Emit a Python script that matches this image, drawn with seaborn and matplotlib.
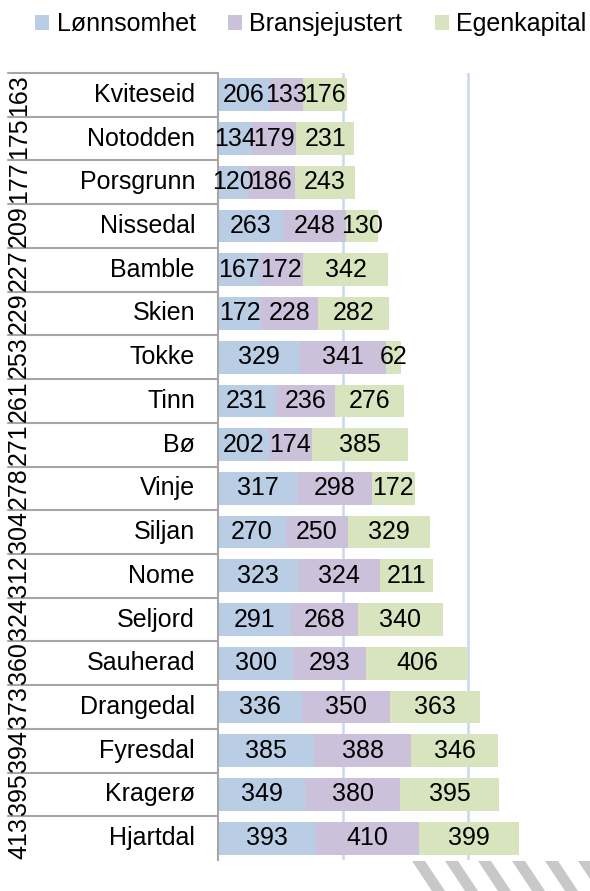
import numpy as np
import pandas as pd
import seaborn as sns
import matplotlib.pyplot as plt
from matplotlib.patches import Polygon, Patch

# Data
kommuner = ['Kviteseid', 'Notodden', 'Porsgrunn', 'Nissedal', 'Bamble', 'Skien', 'Tokke',
            'Tinn', 'Bø', 'Vinje', 'Siljan', 'Nome', 'Seljord', 'Sauherad', 'Drangedal',
            'Fyresdal', 'Kragerø', 'Hjartdal']
rank = ['163', '175', '177', '209', '227', '229', '253', '261', '271', '278', '304', '312',
        '324', '360', '373', '394', '395', '413']
lonnsomhet = [206, 134, 120, 263, 167, 172, 329, 231, 202, 317, 270, 323, 291, 300, 336, 385, 349, 393]
bransje = [133, 179, 186, 248, 172, 228, 341, 236, 174, 298, 250, 324, 268, 293, 350, 388, 380, 410]
egenkapital = [176, 231, 243, 130, 342, 282, 62, 276, 385, 172, 329, 211, 340, 406, 363, 346, 395, 399]

series = ['Lønnsomhet', 'Bransjejustert', 'Egenkapital']
colors = ['#B9CDE5', '#CCC1DA', '#D7E4BD']

df = pd.DataFrame({'kommune': kommuner, 'rank': rank, 'Lønnsomhet': lonnsomhet,
                   'Bransjejustert': bransje, 'Egenkapital': egenkapital})
df['s1'] = df['Lønnsomhet']
df['s2'] = df['s1'] + df['Bransjejustert']
df['s3'] = df['s2'] + df['Egenkapital']

sns.set_style('white')
plt.rcParams['font.family'] = ['Liberation Sans', 'DejaVu Sans']
plt.rcParams['text.color'] = 'black'
FS = 18

W, H = 590, 891
fig = plt.figure(figsize=(W / 100, H / 100), dpi=100)
top, bottom, xaxis = 73, 860, 218
ax = fig.add_axes([xaxis / W, (H - bottom) / H, (W - xaxis) / W, (bottom - top) / H])

# stacked bars: draw cumulative totals from largest to smallest
for col, c in zip(['s3', 's2', 's1'], colors[::-1]):
    sns.barplot(data=df, x=col, y='kommune', orient='h', color=c, saturation=1,
                width=0.75, linewidth=0, ax=ax, zorder=2)

ax.set_xlim(0, (W - xaxis) * 4)
ax.set_ylim(len(kommuner) - 0.5, -0.5)
ax.set_xticks([500, 1000])
ax.set_yticks([])
ax.tick_params(axis='x', length=0, labelbottom=False)
ax.grid(axis='x', color='#C9D8EC', lw=1.8)
ax.set_axisbelow(True)
ax.set_xlabel('')
ax.set_ylabel('')
for s in ['top', 'right', 'bottom']:
    ax.spines[s].set_visible(False)
ax.spines['left'].set_color('#A6A6A6')
ax.spines['left'].set_linewidth(1.5)

# value labels in the middle of each segment
for i, row in df.iterrows():
    left = 0
    for name in series:
        v = row[name]
        ax.text(left + v / 2, i, str(v), ha='center', va='center', fontsize=FS,
                color='black', zorder=3)
        left += v

# table on the left: ranks and names
tab = fig.add_axes([0, (H - bottom) / H, xaxis / W, (bottom - top) / H])
tab.set_xlim(0, xaxis)
tab.set_ylim(len(kommuner) - 0.5, -0.5)
tab.axis('off')
for i in range(len(kommuner)):
    tab.plot([8, xaxis], [i - 0.5, i - 0.5], color='#A6A6A6', lw=1.5, clip_on=False)
    tab.text(19, i, rank[i], rotation=90, ha='center', va='center', fontsize=FS,
             color='black', clip_on=True)
    tab.text(195, i, kommuner[i], ha='right', va='center', fontsize=FS, color='black')

# legend
handles = [Patch(facecolor=c, edgecolor='none') for c in colors]
fig.legend(handles, series, loc='center', bbox_to_anchor=(0.527, 1 - 24 / H), ncol=3,
           frameon=False, fontsize=FS, handlelength=0.55, handleheight=0.55,
           handletextpad=0.3, columnspacing=1.3, borderaxespad=0, labelcolor='black')

# decorative stripes at the bottom right
for x0 in [412, 445, 478, 512, 545, 578]:
    pts = [(x0, 861), (x0 + 13, 861), (x0 + 33, 891), (x0 + 20, 891)]
    pts = [(x / W, 1 - y / H) for x, y in pts]
    fig.add_artist(Polygon(pts, closed=True, facecolor='#C8C8C8', edgecolor='none',
                           transform=fig.transFigure))

fig.savefig('out.png', dpi=100)
